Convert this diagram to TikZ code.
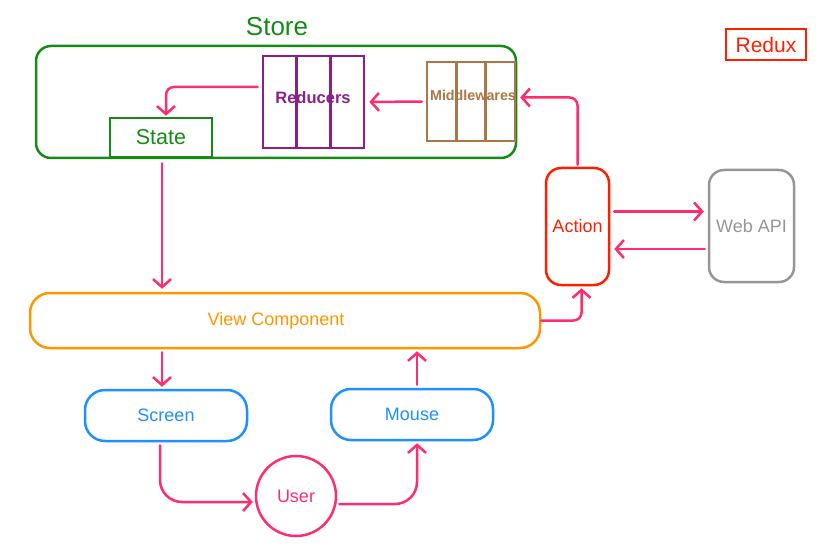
\documentclass[tikz,border=0pt]{standalone}
\usepackage{fontspec}
\setmainfont{Liberation Sans}
\usetikzlibrary{arrows.meta}

\definecolor{storegreen}{RGB}{20,140,20}
\definecolor{redpurple}{RGB}{140,30,140}
\definecolor{midbrown}{RGB}{170,120,70}
\definecolor{linkpink}{RGB}{255,45,110}
\definecolor{actred}{RGB}{255,30,0}
\definecolor{apigray}{RGB}{150,150,150}
\definecolor{vieworange}{RGB}{255,150,0}
\definecolor{ioblue}{RGB}{30,144,255}

\begin{document}
\begin{tikzpicture}[x=1pt,y=-1pt,line width=2.5pt,shorten >=1pt]
		\tikzstyle{box}=[draw,rounded corners=15pt,inner sep=0pt,font=\fontsize{18}{21}\selectfont]
		\tikzstyle{col}=[draw,inner sep=0pt]
		\tikzstyle{conn}=[draw=linkpink,line cap=round,rounded corners=8pt,-{Straight Barb[length=8pt,width=18pt]}]

		\useasboundingbox (0,0) rectangle (832,556);

		\node[text=storegreen,font=\fontsize{26}{30}\selectfont](storetitle) at (277,27){Store};
		\node[box,draw=storegreen,minimum width=480pt,minimum height=112pt](store) at (276,102){};
		\node[col,draw=storegreen,minimum width=102pt,minimum height=39pt,text=storegreen,font=\fontsize{21.5}{25}\selectfont](state) at (161,137.5){State};

		\foreach \i in {0,1,2}
			\node[col,draw=redpurple,minimum width=33.7pt,minimum height=92pt](red\i) at (279.8+33.7*\i,102){};
		\node[text=redpurple,font=\fontsize{16.5}{19}\selectfont\bfseries](reducers) at (313,98){Reducers};

		\foreach \i in {0,1,2}
			\node[col,draw=midbrown,minimum width=29.3pt,minimum height=79pt](mid\i) at (441.7+29.3*\i,101.5){};
		\node[text=midbrown,font=\fontsize{14.3}{17}\selectfont\bfseries](middlewares) at (473,95){Middlewares};

		\node[box,draw=actred,text=actred,minimum width=63pt,minimum height=117pt](action) at (577.5,226.5){Action};
		\node[box,draw=apigray,text=apigray,minimum width=85pt,minimum height=112pt](webapi) at (751.5,226){Web API};
		\node[box,draw=vieworange,text=vieworange,rounded corners=20pt,minimum width=510pt,minimum height=55pt](view) at (285,320.5){\hspace*{-18pt}View Component};
		\node[box,draw=ioblue,text=ioblue,rounded corners=20pt,minimum width=162pt,minimum height=51pt](screen) at (166,415.5){Screen};
		\node[box,draw=ioblue,text=ioblue,rounded corners=20pt,minimum width=162pt,minimum height=51pt](mouse) at (412,414.5){Mouse};
		\node[box,draw=linkpink,text=linkpink,shape=circle,minimum size=80pt](user) at (296,496){User};
		\node[col,draw=actred,text=actred,minimum width=80pt,minimum height=31pt,font=\fontsize{21}{25}\selectfont](redux) at (766,44.5){Redux};

		\draw[conn] ([xshift=-4pt,yshift=15pt]red0.west) -| ([xshift=5pt]state.north);
		\draw[conn,shorten <=4pt,shorten >=4pt] (mid0.west) -- (red2.east);
		\draw[conn,shorten <=2pt,shorten >=4pt] (action.north) |- ([yshift=4pt]mid2.east);
		\draw[conn,shorten <=5pt,shorten >=3pt] ([xshift=1pt]state.south) -- ([xshift=1pt]state.south |- view.north);
		\draw[conn,shorten <=4pt,shorten >=4pt] ([yshift=15pt]action.east) -- ([yshift=15pt]action.east -| webapi.west);
		\draw[conn,shorten <=3pt,shorten >=4pt] ([yshift=-23pt]webapi.west) -- ([yshift=-23pt]webapi.west -| action.east);
		\draw[conn,shorten >=2pt] (view.east) -| ([xshift=4pt]action.south);
		\draw[conn,shorten <=3pt,shorten >=2pt] ([xshift=-4pt]screen.north |- view.south) -- ([xshift=-4pt]screen.north);
		\draw[conn,shorten <=3pt,shorten >=2pt] ([xshift=5pt]mouse.north) -- ([xshift=5pt]mouse.north |- view.south);
		\draw[conn,rounded corners=22pt,shorten <=3pt,shorten >=2pt] ([xshift=-6pt]screen.south) |- ([yshift=-6pt]user.west);
		\draw[conn,rounded corners=22pt,shorten <=2pt,shorten >=2pt] ([yshift=-8pt]user.east) -| ([xshift=5pt]mouse.south);
	\end{tikzpicture}
\end{document}
